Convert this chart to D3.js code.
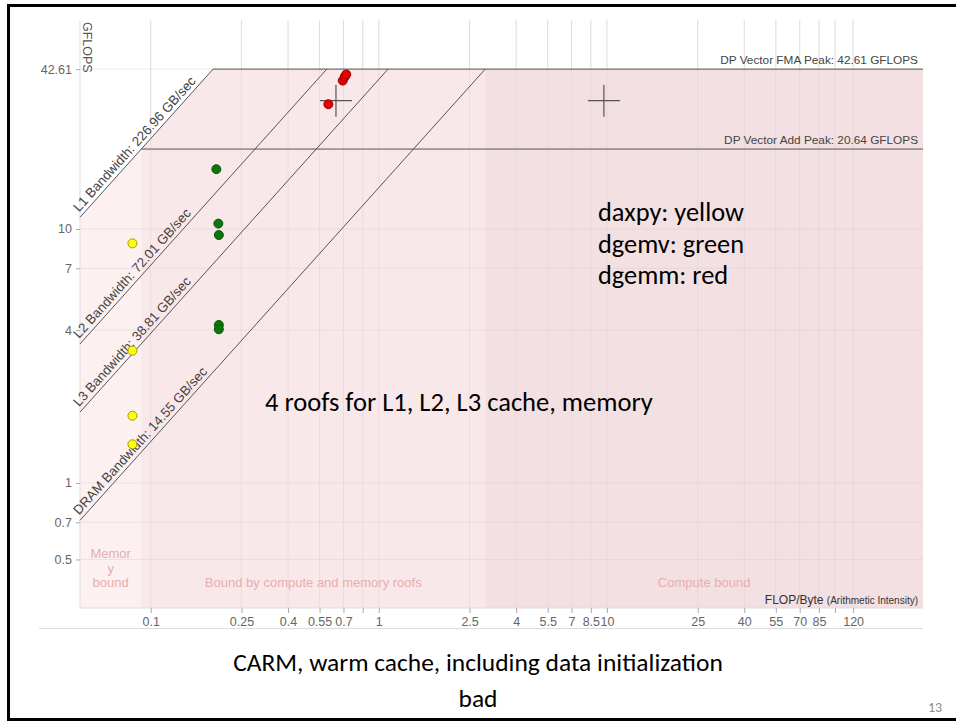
<!DOCTYPE html>
<html>
<head>
<meta charset="utf-8">
<script src="https://cdn.jsdelivr.net/npm/d3@7"></script>
<style>
  html, body { margin: 0; padding: 0; background: #fff; }
  svg { display: block; }
</style>
</head>
<body>
<script>
// axis extents (FLOP/Byte and GFLOPS)
const ai_range = [0.049, 243]
const perf_range = [0.322, 66.5]

const x_ticks = [0.1, 0.25, 0.4, 0.55, 0.7, 0.85, 1, 2.5, 4, 5.5, 7, 8.5, 10, 25, 40, 55, 70, 85, 100, 120]
const x_ticks_unlabeled = [0.85, 100]
const y_ticks = [0.5, 0.7, 1, 4, 7, 10, 42.61]

// memory roofs
const roof_names = ["L1", "L2", "L3", "DRAM"]
const roof_bw = [226.96, 72.01, 38.81, 14.55]

// compute roofs
const peak_names = ["DP Vector FMA Peak", "DP Vector Add Peak"]
const peak_values = [42.61, 20.64]

// kernels
const daxpy_ai = [0.0832, 0.0832, 0.0832, 0.0832]
const daxpy_gf = [8.78, 3.32, 1.84, 1.42]
const dgemv_ai = [0.194, 0.198, 0.199, 0.199, 0.199]
const dgemv_gf = [17.2, 10.5, 9.47, 4.19, 4.03]
const dgemm_ai = [0.601, 0.695, 0.71, 0.72]
const dgemm_gf = [31.0, 38.4, 39.8, 40.6]

// cross markers
const cross_ai = [0.649, 9.7]
const cross_gf = [32, 32]

const region_names = ["Memory bound", "Bound by compute and memory roofs", "Compute bound"]

const W = 956, H = 723
const plot = { left: 80, right: 923, top: 20, bottom: 608 }
const chart_font = "Liberation Sans, Arial, sans-serif"

const svg = d3.select("body").append("svg")
    .attr("width", W)
    .attr("height", H)

const x = d3.scaleLog().domain(ai_range).range([plot.left, plot.right])
const y = d3.scaleLog().domain(perf_range).range([plot.bottom, plot.top])

const fma = peak_values[0]
const add = peak_values[1]
const l1 = roof_bw[0]
const dram = roof_bw[roof_bw.length - 1]

// envelope of the top roof (L1 then FMA peak)
const envelope = ai => Math.min(l1 * ai, fma)

const g = svg.append("g")

// vertical grid lines
g.selectAll(".vgrid")
    .data(x_ticks)
    .join("line")
    .attr("class", "vgrid")
    .attr("x1", d => x(d)).attr("x2", d => x(d))
    .attr("y1", plot.top).attr("y2", plot.bottom)
    .attr("stroke", "#e8e8e8")
    .attr("stroke-width", 1)

// region fills under the roof envelope
const bounds = [ai_range[0], add / l1, fma / dram, ai_range[1]]
const region_fill = ["#fcefef", "#f8e6e7", "#f1dddf"]
const area = d3.area()
    .x(d => x(d))
    .y0(plot.bottom)
    .y1(d => y(envelope(d)))

region_names.forEach((name, i) => {
    const a = bounds[i], b = bounds[i + 1]
    const pts = [a]
    const ridge = fma / l1
    if (ridge > a && ridge < b) pts.push(ridge)
    pts.push(b)
    g.append("path")
        .attr("d", area(pts))
        .attr("fill", region_fill[i])
        .attr("opacity", 0.92)
})

// grid lines again, faint over the fills
g.selectAll(".vgrid2")
    .data(x_ticks)
    .join("line")
    .attr("class", "vgrid2")
    .attr("x1", d => x(d)).attr("x2", d => x(d))
    .attr("y1", plot.top).attr("y2", plot.bottom)
    .attr("stroke", "#d9c9ca")
    .attr("stroke-opacity", 0.35)

g.selectAll(".hgrid")
    .data(y_ticks)
    .join("line")
    .attr("x1", plot.left).attr("x2", plot.right)
    .attr("y1", d => y(d)).attr("y2", d => y(d))
    .attr("stroke", "#d9c9ca")
    .attr("stroke-opacity", 0.4)

// plot frame (left + bottom)
g.append("line")
    .attr("x1", plot.left).attr("x2", plot.left)
    .attr("y1", plot.top).attr("y2", plot.bottom)
    .attr("stroke", "#ddd")
g.append("line")
    .attr("x1", plot.left).attr("x2", plot.right)
    .attr("y1", plot.bottom).attr("y2", plot.bottom)
    .attr("stroke", "#ddd")

// x axis
const xAxis = d3.axisBottom(x)
    .tickValues(x_ticks)
    .tickSize(5)
    .tickPadding(4)
    .tickFormat(d => x_ticks_unlabeled.includes(d) ? "" : d3.format("~g")(d))
const xg = svg.append("g")
    .attr("transform", `translate(0,${plot.bottom})`)
    .call(xAxis)
xg.select(".domain").remove()
xg.selectAll(".tick line").attr("stroke", "#aaa")
xg.selectAll("text")
    .attr("fill", "#666")
    .attr("font-family", chart_font)
    .attr("font-size", 12.5)

svg.append("line")
    .attr("x1", 39).attr("x2", plot.right)
    .attr("y1", 628.5).attr("y2", 628.5)
    .attr("stroke", "#ddd")

// y axis
const yAxis = d3.axisLeft(y)
    .tickValues(y_ticks)
    .tickSize(4)
    .tickPadding(4)
    .tickFormat(d => d3.format("~g")(d))
const yg = svg.append("g")
    .attr("transform", `translate(${plot.left},0)`)
    .call(yAxis)
yg.select(".domain").remove()
yg.selectAll(".tick line").attr("stroke", "#aaa")
yg.selectAll("text")
    .attr("fill", "#666")
    .attr("font-family", chart_font)
    .attr("font-size", 12.5)

svg.append("text")
    .attr("transform", `translate(${plot.left + 3},${plot.top + 2}) rotate(90)`)
    .attr("font-family", chart_font)
    .attr("font-size", 12.5)
    .attr("fill", "#555")
    .text("GFLOPS")

// memory roofs
const roof_color = "#555"
roof_bw.forEach((bw, i) => {
    const a0 = ai_range[0]
    const a1 = fma / bw
    g.append("line")
        .attr("x1", x(a0)).attr("y1", y(bw * a0))
        .attr("x2", x(a1)).attr("y2", y(fma))
        .attr("stroke", roof_color)
        .attr("stroke-width", 1)

    const angle = Math.atan2(y(bw * a1) - y(bw * a0), x(a1) - x(a0)) * 180 / Math.PI
    const a_lab = a0 * 1.02
    g.append("text")
        .attr("transform", `translate(${x(a_lab)},${y(bw * a_lab)}) rotate(${angle})`)
        .attr("dy", -4)
        .attr("font-family", chart_font)
        .attr("font-size", 13.3)
        .attr("fill", "#444")
        .text(`${roof_names[i]} Bandwidth: ${bw.toFixed(2)} GB/sec`)
})

// compute roofs
peak_values.forEach((p, i) => {
    g.append("line")
        .attr("x1", x(p / l1)).attr("x2", x(ai_range[1]))
        .attr("y1", y(p)).attr("y2", y(p))
        .attr("stroke", roof_color)
    g.append("text")
        .attr("x", plot.right - 5)
        .attr("y", y(p) - 5)
        .attr("text-anchor", "end")
        .attr("font-family", chart_font)
        .attr("font-size", 11.8)
        .attr("fill", "#444")
        .text(`${peak_names[i]}: ${p.toFixed(2)} GFLOPS`)
})

// region labels
const region_label_color = "#e7aeb0"
const mid_x = i => (x(bounds[i]) + x(bounds[i + 1])) / 2
const mem_lines = ["Memor", "y", "bound"]
g.selectAll(".memlab")
    .data(mem_lines)
    .join("text")
    .attr("x", mid_x(0))
    .attr("y", (d, i) => 558 + i * 14.5)
    .attr("text-anchor", "middle")
    .attr("font-family", chart_font)
    .attr("font-size", 13)
    .attr("fill", region_label_color)
    .text(d => d)
;[1, 2].forEach(i => {
    g.append("text")
        .attr("x", mid_x(i))
        .attr("y", 587)
        .attr("text-anchor", "middle")
        .attr("font-family", chart_font)
        .attr("font-size", 13)
        .attr("fill", region_label_color)
        .text(region_names[i])
})

// x axis title
const xt = g.append("text")
    .attr("x", plot.right - 5)
    .attr("y", 604)
    .attr("text-anchor", "end")
    .attr("font-family", chart_font)
    .attr("fill", "#333")
xt.append("tspan").attr("font-size", 12).text("FLOP/Byte ")
xt.append("tspan").attr("font-size", 10).text("(Arithmetic Intensity)")

// cross markers
const arm = 16
cross_ai.forEach((a, i) => {
    const cx = x(a), cy = y(cross_gf[i])
    g.append("path")
        .attr("d", `M${cx - arm},${cy}H${cx + arm}M${cx},${cy - arm}V${cy + arm}`)
        .attr("stroke", "#555")
        .attr("stroke-width", 1.2)
})

// kernel points
const kernels = [
    { ai: daxpy_ai, gf: daxpy_gf, fill: "#ffff10", stroke: "#a79b00" },
    { ai: dgemv_ai, gf: dgemv_gf, fill: "#0c760c", stroke: "#075a07" },
    { ai: dgemm_ai, gf: dgemm_gf, fill: "#e80000", stroke: "#9a0000" },
]
kernels.forEach(k => {
    g.selectAll(null)
        .data(d3.range(k.ai.length))
        .join("circle")
        .attr("cx", i => x(k.ai[i]))
        .attr("cy", i => y(k.gf[i]))
        .attr("r", 4.5)
        .attr("fill", k.fill)
        .attr("stroke", k.stroke)
        .attr("stroke-width", 1)
})

// slide annotations
const slide_font = "Carlito, Calibri, Lato, 'Open Sans', sans-serif"
function fit(sel, target) {
    const w = sel.node().getComputedTextLength()
    const fs = +sel.attr("font-size")
    sel.attr("font-size", fs * target / w)
    return fs * target / w
}

const legend_lines = ["daxpy: yellow", "dgemv: green", "dgemm: red"]
const legend = svg.selectAll(".legend")
    .data(legend_lines)
    .join("text")
    .attr("class", "legend")
    .attr("x", 598)
    .attr("y", (d, i) => 221 + i * 31.5)
    .attr("font-family", slide_font)
    .attr("font-size", 22)
    .attr("fill", "#000")
    .text(d => d)
const lfs = fit(legend.filter((d, i) => i === 0), 146)
legend.attr("font-size", lfs)

const roofs_note = svg.append("text")
    .attr("x", 265)
    .attr("y", 411)
    .attr("font-family", slide_font)
    .attr("font-size", 22)
    .attr("fill", "#000")
    .text("4 roofs for L1, L2, L3 cache, memory")
fit(roofs_note, 388)

const title1 = svg.append("text")
    .attr("x", 478)
    .attr("y", 671)
    .attr("text-anchor", "middle")
    .attr("font-family", slide_font)
    .attr("font-size", 24)
    .attr("fill", "#000")
    .text("CARM, warm cache, including data initialization")
fit(title1, 490)
svg.append("text")
    .attr("x", 478)
    .attr("y", 707)
    .attr("text-anchor", "middle")
    .attr("font-family", slide_font)
    .attr("font-size", title1.attr("font-size"))
    .attr("fill", "#000")
    .text("bad")

svg.append("text")
    .attr("x", 935)
    .attr("y", 712)
    .attr("text-anchor", "middle")
    .attr("font-family", slide_font)
    .attr("font-size", 14)
    .attr("fill", "#8a8a8a")
    .text("13")

// slide frame
svg.append("rect")
    .attr("x", 8.5).attr("y", 5.5)
    .attr("width", 970).attr("height", 714)
    .attr("fill", "none")
    .attr("stroke", "#000")
    .attr("stroke-width", 3)
</script>
</body>
</html>
